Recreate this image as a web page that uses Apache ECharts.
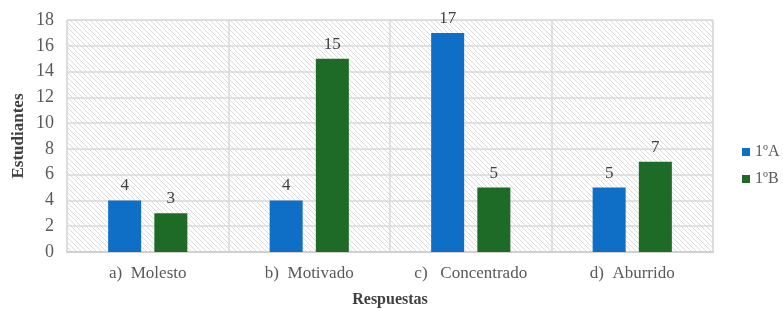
<!DOCTYPE html>
<html>
<head>
<meta charset="utf-8">
<script src="https://cdn.jsdelivr.net/npm/echarts@6/dist/echarts.min.js"></script>
<style>
html,body{margin:0;padding:0;background:#fff;}
#main{width:783px;height:309px;}
</style>
</head>
<body>
<div id="main"></div>
<script>
var categories = ['a)  Molesto', 'b)  Motivado', 'c)   Concentrado', 'd)  Aburrido'];
var serieA = [4, 4, 17, 5];
var serieB = [3, 15, 5, 7];
var seriesNames = ['1ºA', '1ºB'];

// hatch pattern for the plot background
function makeHatch() {
    var c = document.createElement('canvas');
    c.width = 5; c.height = 5;
    var ctx = c.getContext('2d');
    ctx.fillStyle = '#ffffff';
    ctx.fillRect(0, 0, 5, 5);
    ctx.strokeStyle = '#dcdcdc';
    ctx.lineWidth = 1;
    ctx.beginPath();
    ctx.moveTo(-1, -1); ctx.lineTo(6, 6);
    ctx.moveTo(-1, 4); ctx.lineTo(1, 6);
    ctx.moveTo(4, -1); ctx.lineTo(6, 1);
    ctx.stroke();
    return c;
}

var font = '"Liberation Serif", "DejaVu Serif", serif';
var chart = echarts.init(document.getElementById('main'));
var option = {
    animation: false,
    textStyle: { fontFamily: font },
    legend: {
        orient: 'vertical',
        left: 737, top: 139,
        itemWidth: 8, itemHeight: 8, itemGap: 11,
        icon: 'rect',
        textStyle: { fontFamily: font, fontSize: 16, color: '#595959' },
        data: seriesNames
    },
    grid: {
        left: 67, right: 70, top: 20, bottom: 57,
        outerBoundsMode: 'none',
        containLabel: false,
        show: true,
        backgroundColor: { image: makeHatch(), repeat: 'repeat' },
        borderColor: '#d9d9d9', borderWidth: 1
    },
    xAxis: {
        type: 'category',
        data: categories,
        name: 'Respuestas',
        nameLocation: 'middle',
        nameGap: 40,
        nameTextStyle: { fontFamily: font, fontSize: 16, fontWeight: 'bold', color: '#404040' },
        axisLine: { lineStyle: { color: '#d0d0d0', width: 2 } },
        axisTick: { show: false },
        axisLabel: { fontFamily: font, fontSize: 17, color: '#595959', margin: 13 },
        splitLine: { show: true, lineStyle: { color: '#d9d9d9', width: 1.5 } }
    },
    yAxis: {
        type: 'value',
        min: 0, max: 18, interval: 2,
        name: 'Estudiantes',
        nameLocation: 'middle',
        nameGap: 40,
        nameMoveOverlap: false,
        nameTextStyle: { fontFamily: font, fontSize: 17, fontWeight: 'bold', color: '#404040' },
        axisLine: { show: false },
        axisTick: { show: false },
        axisLabel: { fontFamily: font, fontSize: 18, color: '#595959', margin: 13 },
        splitLine: { lineStyle: { color: '#d9d9d9', width: 1.5 } }
    },
    series: [
        {
            name: seriesNames[0], type: 'bar', data: serieA,
            barWidth: 33, barGap: '40%',
            itemStyle: { color: '#0F6FC6' },
            label: { show: true, position: 'top', distance: 6, fontFamily: font, fontSize: 17, color: '#404040' }
        },
        {
            name: seriesNames[1], type: 'bar', data: serieB,
            barWidth: 33,
            itemStyle: { color: '#1E6B28' },
            label: { show: true, position: 'top', distance: 6, fontFamily: font, fontSize: 17, color: '#404040' }
        }
    ]
};
chart.setOption(option);
</script>
</body>
</html>
